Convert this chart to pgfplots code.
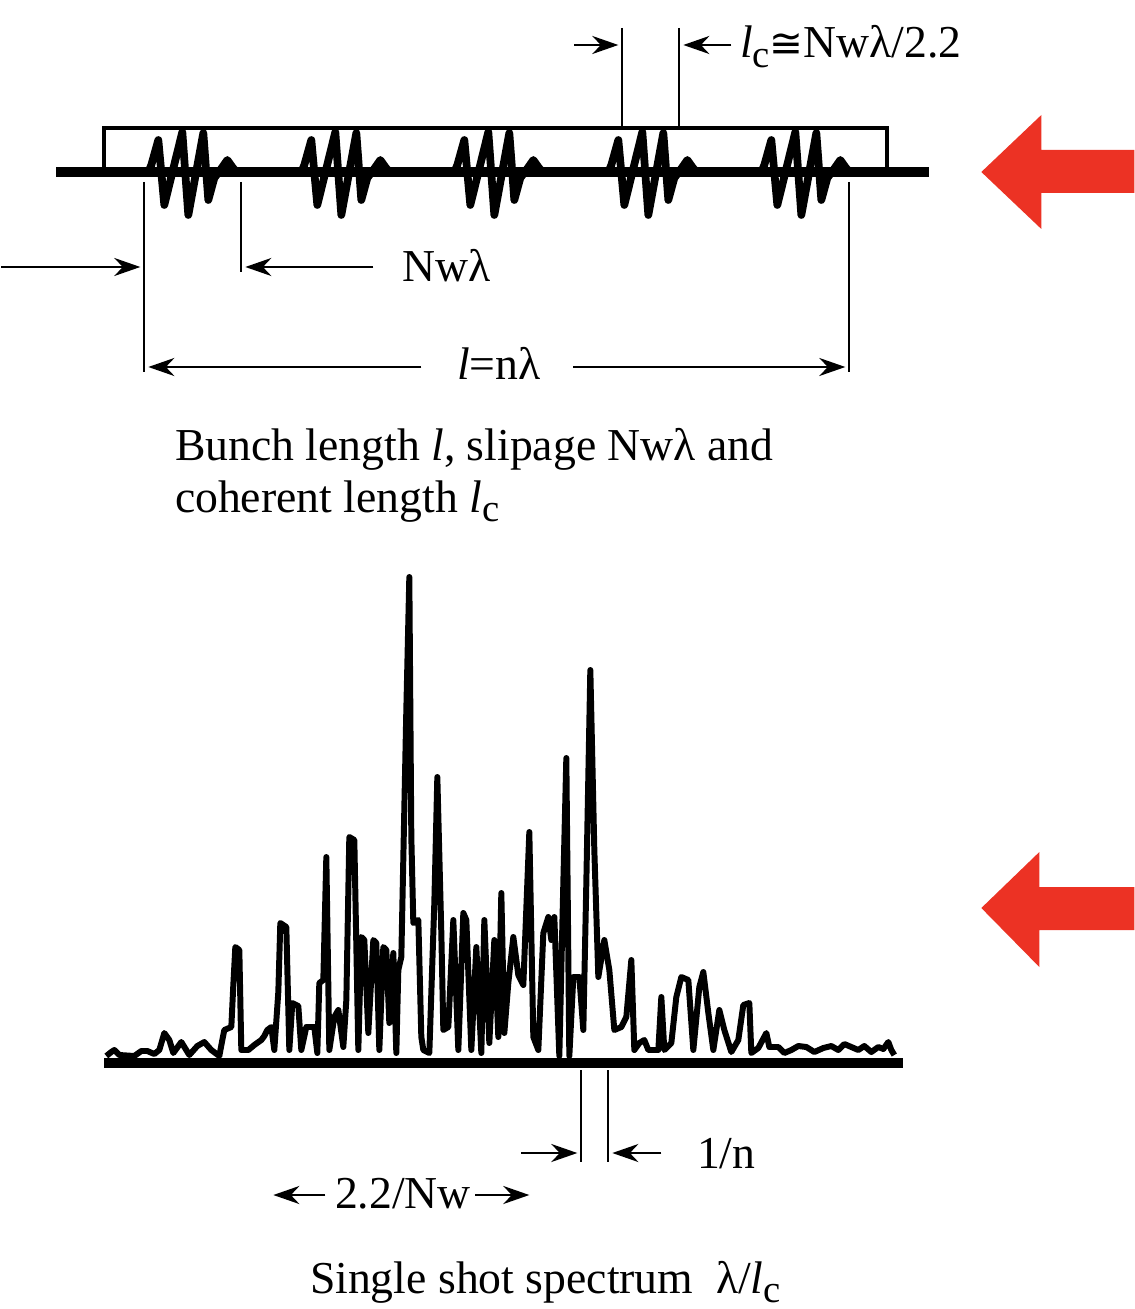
\documentclass[border=0pt]{standalone}
\usepackage{pgfplots}
\pgfplotsset{compat=1.18}
\usepackage{pgfplotstable}
\usepackage{fontspec}
\setmainfont{Liberation Serif}
\newfontfamily\dvs{DejaVu Sans}
\usetikzlibrary{arrows.meta}
\definecolor{arrred}{RGB}{236,50,36}
\newcommand\sub[1]{\raisebox{-0.45ex}{\fontsize{11}{12}\selectfont #1}}
\newcommand\tf{\fontsize{13}{15.6}\selectfont}

% one wave packet, x relative to its start, y in picture pixels (downwards)
\pgfplotstableread{
dx y
0 172
3 165
10 140
16 205
34 132
40 215
55 133
60 200
66 178
72 170
79 160
84 167
88 172
}\packet

% single shot spectrum, picture pixels
\pgfplotstableread{
x y
105 1056
110 1052
113 1050
118 1055
133 1056
140 1051
146 1051
153 1054
158 1050
163 1033
168 1040
172 1053
180 1042
188 1055
196 1046
203 1042
210 1050
218 1056
221 1040
223 1030
230 1027
232 985
234 947
238 950
240 1050
247 1050
253 1045
260 1040
263 1036
266 1030
270 1027
273 1050
277 992
279 923
285 927
288 1050
291 1003
297 1006
300 1050
305 1027
313 1027
316 1053
318 983
322 980
325 857
328 1050
333 1017
337 1010
342 1047
345 1000
348 837
353 840
357 1050
360 937
363 940
367 1033
372 940
375 943
378 1050
382 947
385 950
388 1023
392 953
395 1053
397 970
400 957
405 710
408 577
410 837
412 923
417 920
420 1037
422 1050
428 1053
433 903
436 777
440 933
442 1030
447 1027
452 920
457 1050
462 913
465 920
470 1050
475 947
480 1053
483 920
488 1043
493 940
497 1037
500 893
503 1033
507 983
512 937
517 975
522 985
528 832
532 1037
537 1050
542 933
547 917
550 940
553 917
558 1056
562 883
565 758
568 1056
572 977
578 977
582 1030
585 883
589 670
593 850
597 977
603 940
608 970
613 1030
620 1027
625 1017
630 960
633 1050
638 1043
643 1040
647 1050
657 1050
660 997
663 1050
670 1043
675 997
680 977
687 980
692 1050
698 987
702 972
707 1013
712 1050
718 1010
723 1030
730 1052
737 1040
742 1005
748 1003
750 1053
757 1048
765 1033
768 1047
777 1047
783 1053
790 1050
797 1046
805 1047
813 1052
822 1048
830 1046
837 1050
843 1044
850 1047
857 1050
863 1046
870 1052
877 1047
882 1049
887 1042
890 1050
893 1055
}\spectrum

\begin{document}
\begin{tikzpicture}[
  dim/.style={black,line width=0.65pt},
  arr/.style={black,line width=0.75pt,-{Stealth[length=2.6mm,width=1.8mm]}},
  lbl/.style={anchor=base west,inner sep=0pt,font=\tf}]
\begin{axis}[width=113.3mm,height=130.9mm,scale only axis,hide axis,
  xmin=0,xmax=1133,ymin=0,ymax=1309,y dir=reverse,clip=false]
\addplot[draw=none] coordinates {(0,0) (1133,1309)};

% ---------- top: bunch ----------
\addplot[black,line width=1.1pt] coordinates {(103,172) (103,128) (886,128) (886,172)};
\pgfplotsinvokeforeach{147,300,453,607,760}{
  \addplot[black,line width=2.2pt,line join=round,line cap=round] table[x expr=\thisrow{dx}+#1,y=y]{\packet};
}
\addplot[black,line width=3.1pt] coordinates {(55,172) (928,172)};

% coherent length
\addplot[dim] coordinates {(621,28) (621,128)};
\addplot[dim] coordinates {(678,28) (678,128)};
\addplot[arr] coordinates {(573,45) (617,45)};
\addplot[arr] coordinates {(730,45) (682,45)};
\node[lbl] at (axis cs:738,58) {\textit{l}\sub{c}{\dvs\fontsize{11.5}{14}\selectfont ≅}Nwλ/2.2};

% slippage
\addplot[dim] coordinates {(143,182) (143,372)};
\addplot[dim] coordinates {(240,182) (240,272)};
\addplot[dim] coordinates {(848,182) (848,372)};
\addplot[arr] coordinates {(0,267) (139,267)};
\addplot[arr] coordinates {(372,267) (244,267)};
\node[lbl] at (axis cs:400,282) {Nwλ};

% bunch length
\addplot[arr] coordinates {(420,367) (147,367)};
\addplot[arr] coordinates {(572,367) (844,367)};
\node[lbl] at (axis cs:455,380) {\textit{l}=nλ};

\node[lbl] at (axis cs:173,460) {Bunch length \textit{l}, slipage Nwλ and};
\node[lbl] at (axis cs:173,512) {coherent length \textit{l}\sub{c}};

% ---------- bottom: spectrum ----------
\addplot[black,line width=1.7pt,line join=round] table[x=x,y=y]{\spectrum};
\addplot[black,line width=2.85pt] coordinates {(103,1063) (902,1063)};

\addplot[dim] coordinates {(580,1070) (580,1162)};
\addplot[dim] coordinates {(607,1070) (607,1162)};
\addplot[arr] coordinates {(520,1153) (576,1153)};
\addplot[arr] coordinates {(660,1153) (611,1153)};
\node[lbl] at (axis cs:695,1168) {1/n};

\addplot[arr] coordinates {(324,1195) (272,1195)};
\addplot[arr] coordinates {(474,1195) (528,1195)};
\node[lbl] at (axis cs:333,1208) {2.2/Nw};

\node[lbl] at (axis cs:308,1293) {Single shot spectrum\ \ λ/\textit{l}\sub{c}};

% ---------- red arrows ----------
\addplot[fill=arrred,draw=none] coordinates {(980,172) (1040,115) (1040,150) (1133,150) (1133,193) (1040,193) (1040,229)} -- cycle;
\addplot[fill=arrred,draw=none] coordinates {(980,908) (1038,852) (1038,887) (1133,887) (1133,930) (1038,930) (1038,967)} -- cycle;
\end{axis}
\end{tikzpicture}
\end{document}
